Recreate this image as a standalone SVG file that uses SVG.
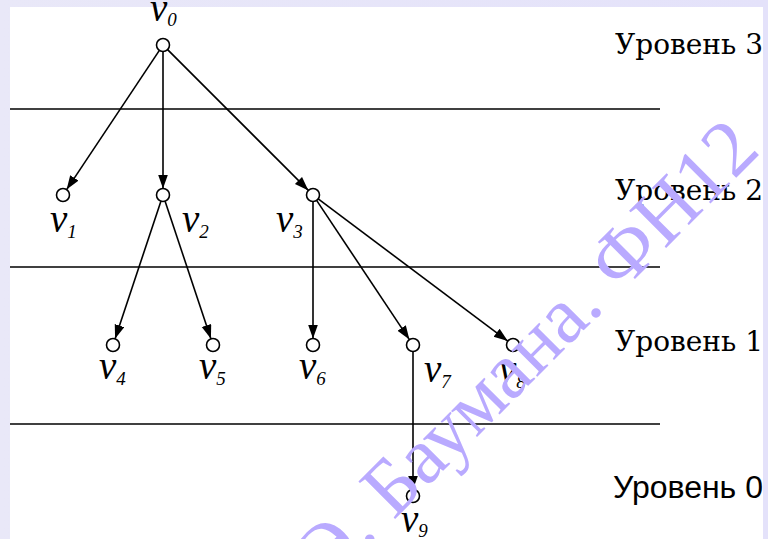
<svg xmlns="http://www.w3.org/2000/svg" width="768" height="539" viewBox="0 0 768 539">
<defs>
<style>
.lvl{stroke:#000;stroke-width:1.3}
.edge{stroke:#000;stroke-width:1.6;fill:none;marker-end:url(#ah)}
.node{fill:#fff;stroke:#000;stroke-width:1.6}
.v{font-family:"Liberation Serif","DejaVu Serif",serif;font-style:italic;font-size:39px;fill:#000}
.sub{font-size:19px}
.lab{font-family:"DejaVu Serif","Liberation Serif",serif;font-size:27px;fill:#000}
.labs{font-family:"Liberation Sans",Arial,sans-serif;font-size:31px;fill:#000}
.wm{font-family:"Liberation Serif",serif;font-size:80px;fill:#b9aaff}
</style>
<linearGradient id="bg" x1="0" y1="0" x2="1" y2="0">
<stop offset="0" stop-color="#e9e8f8"/>
<stop offset="1" stop-color="#e4e2fa"/>
</linearGradient>
<marker id="ah" markerUnits="userSpaceOnUse" markerWidth="15" markerHeight="11" refX="14" refY="5" orient="auto">
<path d="M0,0 L14,5 L0,10 z" fill="#000"/>
</marker>
</defs>
<rect x="0" y="0" width="768" height="539" fill="url(#bg)"/>
<rect x="10" y="7" width="753" height="532" fill="#fff"/>
<g id="levels">
<line class="lvl" x1="10" y1="109" x2="660" y2="109"/>
<line class="lvl" x1="10" y1="267" x2="660" y2="267"/>
<line class="lvl" x1="10" y1="424" x2="660" y2="424"/>
<text class="lab" x="615" y="54" textLength="148" lengthAdjust="spacingAndGlyphs">Уровень 3</text>
<text class="lab" x="615" y="200" textLength="148" lengthAdjust="spacingAndGlyphs">Уровень 2</text>
<text class="lab" x="615" y="351" textLength="148" lengthAdjust="spacingAndGlyphs">Уровень 1</text>
<text class="labs" x="613" y="498" textLength="150" lengthAdjust="spacingAndGlyphs">Уровень 0</text>
</g>
<g id="connectors">
<line class="edge" x1="159.4" y1="50.4" x2="66.6" y2="189.6"/>
<line class="edge" x1="163" y1="51.5" x2="163" y2="188.5"/>
<line class="edge" x1="167.6" y1="49.6" x2="308.4" y2="190.4"/>
<line class="edge" x1="160.9" y1="201.2" x2="115.1" y2="338.8"/>
<line class="edge" x1="165.1" y1="201.2" x2="210.9" y2="338.8"/>
<line class="edge" x1="313" y1="201.5" x2="313" y2="338.5"/>
<line class="edge" x1="316.6" y1="200.4" x2="409.4" y2="339.6"/>
<line class="edge" x1="318.2" y1="198.9" x2="507.8" y2="341.1"/>
<line class="edge" x1="413" y1="351.5" x2="413" y2="489.5"/>
</g>
<g id="v0"><circle class="node" cx="163" cy="45" r="6.5"/><text class="v" x="150" y="21">v<tspan class="sub" dy="5">0</tspan></text></g>
<g id="v1"><circle class="node" cx="63" cy="195" r="6.5"/><text class="v" x="50" y="232">v<tspan class="sub" dy="6">1</tspan></text></g>
<g id="v2"><circle class="node" cx="163" cy="195" r="6.5"/><text class="v" x="182" y="232">v<tspan class="sub" dy="6">2</tspan></text></g>
<g id="v3"><circle class="node" cx="313" cy="195" r="6.5"/><text class="v" x="276" y="232">v<tspan class="sub" dy="6">3</tspan></text></g>
<g id="v4"><circle class="node" cx="113" cy="345" r="6.5"/><text class="v" x="99" y="379">v<tspan class="sub" dy="6">4</tspan></text></g>
<g id="v5"><circle class="node" cx="213" cy="345" r="6.5"/><text class="v" x="199" y="379">v<tspan class="sub" dy="6">5</tspan></text></g>
<g id="v6"><circle class="node" cx="313" cy="345" r="6.5"/><text class="v" x="299" y="379">v<tspan class="sub" dy="6">6</tspan></text></g>
<g id="v7"><circle class="node" cx="413" cy="345" r="6.5"/><text class="v" x="424" y="382">v<tspan class="sub" dy="6">7</tspan></text></g>
<g id="v8"><circle class="node" cx="513" cy="345" r="6.5"/><text class="v" x="499" y="382">v<tspan class="sub" dy="6">8</tspan></text></g>
<g id="v9"><circle class="node" cx="413" cy="496" r="6.5"/><text class="v" x="401" y="532">v<tspan class="sub" dy="5">9</tspan></text></g>
<text class="wm" text-anchor="end" transform="translate(762,152) rotate(-45)">Н.Э. Баумана. ФН12</text>
</svg>
